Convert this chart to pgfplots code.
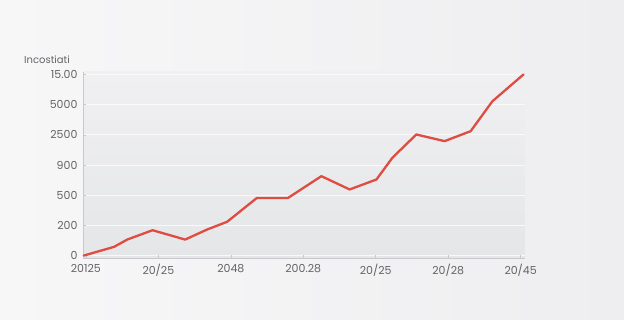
\documentclass[border=0pt]{standalone}
\usepackage{pgfplots}
\pgfplotsset{compat=1.18}
\usepackage{fontspec}
\setmainfont{Poppins}
\definecolor{bgl}{RGB}{247,247,248}
\definecolor{bgc}{RGB}{238,238,240}
\definecolor{plottop}{RGB}{240,240,242}
\definecolor{plotbot}{RGB}{229,230,232}
\definecolor{linered}{RGB}{222,76,66}
\definecolor{txt}{RGB}{100,100,104}
\definecolor{axc}{RGB}{200,201,204}
\begin{document}
\begin{tikzpicture}
\path[left color=bgl, right color=bgc] (0,0) rectangle (624pt,320pt);
\begin{axis}[
  at={(83pt,62pt)}, anchor=south west,
  scale only axis, width=442pt, height=186pt,
  xmin=-0.04, xmax=6.06, ymin=-0.08, ymax=6.08,
  axis background/.style={top color=plottop, bottom color=plotbot},
  axis x line*=bottom, axis y line*=left,
  axis line style={axc, line width=0.8pt},
  xtick={0,1,2,3,4,5,6},
  xticklabels={20125,20/25,2048,200.28,20/25,20/28,20/45},
  ytick={0,1,2,3,4,5,6},
  yticklabels={0,200,500,900,2500,5000,15.00},
  tick style={axc, line width=0.6pt},
  major tick length=3pt,
  ymajorgrids, grid style={white!60!plottop, line width=0.8pt},
  tick label style={font=\fontsize{11}{12}\selectfont, text=txt},
  /pgf/number format/assume math mode=true,
  xticklabel style={yshift=-3pt},
  yticklabel style={xshift=-2pt},
  clip=false,
]
\addplot[linered, line width=2.3pt, line join=round, line cap=round] coordinates {
(-0.03,0.0) (0.39,0.29) (0.57,0.53) (0.92,0.84) (1.37,0.53) (1.67,0.86)
(1.95,1.12) (2.36,1.91) (2.79,1.91) (3.25,2.63) (3.64,2.19) (4.01,2.52)
(4.23,3.24) (4.56,4.01) (4.95,3.79) (5.31,4.12) (5.61,5.11) (6.04,6.0)
};
\end{axis}
\node[anchor=south west, inner sep=0pt, font=\fontsize{10}{11}\selectfont, text=txt] at (24pt,256pt) {Incostiati};
\end{tikzpicture}
\end{document}
